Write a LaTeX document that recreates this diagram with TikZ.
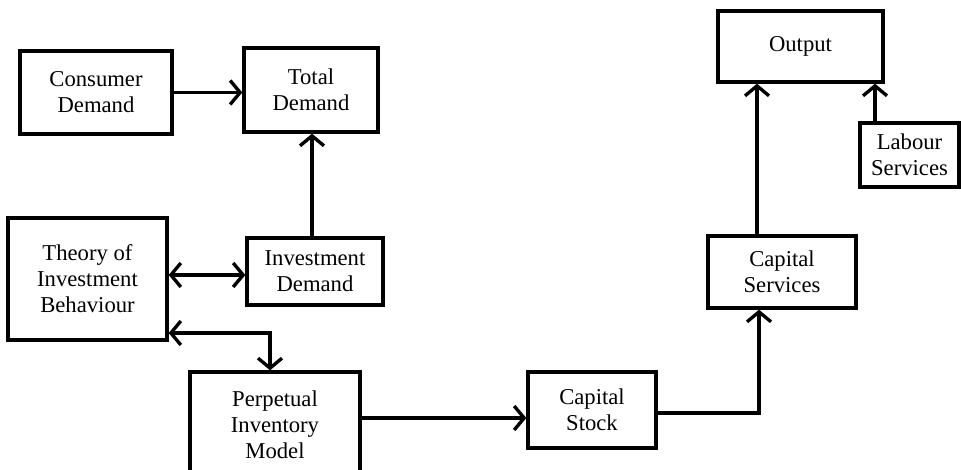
\documentclass[tikz,border=0pt]{standalone}
\usepackage{fontspec}
\setmainfont{Liberation Serif}
\usetikzlibrary{arrows.meta}
\begin{document}
\begin{tikzpicture}[x=0.75pt,y=-0.75pt,
  box/.style 2 args={draw, line width=2.5pt, align=center, inner sep=0pt,
    minimum width=#1*0.75pt, minimum height=#2*0.75pt,
    font=\fontsize{17}{19.5}\selectfont},
  tip/.style={Straight Barb[length=7.5pt,width=18pt,line width=2.5pt]},
  arr/.style={line width=2.5pt, -{Straight Barb[length=7.5pt,width=18pt,line width=2.5pt]}},
  biarr/.style={line width=2.5pt, {Straight Barb[length=7.5pt,width=18pt,line width=2.5pt]}-{Straight Barb[length=7.5pt,width=18pt,line width=2.5pt]}}]
\useasboundingbox (0,0) rectangle (961,470);

% blocks
\node[box={152}{83}]  (cons)   at (96,92.5)   {Consumer\\Demand};
\node[box={134}{84}]  (tot)    at (311,90)    {Total\\Demand};
\node[box={136}{67}]  (inv)    at (315,271.5) {Investment\\Demand};
\node[box={159}{122}] (theory) at (87.5,279)  {Theory of\\Investment\\Behaviour};
\node[box={170}{106}] (pim)    at (275,425)   {Perpetual\\Inventory\\Model};
\node[box={128}{76}]  (stock)  at (592,410)   {Capital\\Stock};
\node[box={148}{72}]  (serv)   at (782,272)   {Capital\\Services};
\node[box={165}{71}]  (out)    at (800.5,46.5){Output};
\node[box={99}{64}]   (lab)    at (909.5,155) {Labour\\Services};

% links
\draw[arr] (cons.east) -- (cons.east -| tot.west);
\draw[arr] (inv.north -| 312,0) -- (tot.south -| 312,0);
\draw[biarr] (theory.east |- 0,275) -- (inv.west |- 0,275);
\draw[biarr] (theory.east |- 0,333) -- (270,333) -- (pim.north -| 270,0);
\draw[arr] (pim.east |- 0,418) -- (stock.west |- 0,418);
\draw[arr] (stock.east |- 0,413) -- (759,413) -- (serv.south -| 759,0);
\draw[arr] (serv.north -| 757,0) -- (out.south -| 757,0);
\draw[arr] (lab.north -| 875,0) -- (out.south -| 875,0);
\end{tikzpicture}
\end{document}
